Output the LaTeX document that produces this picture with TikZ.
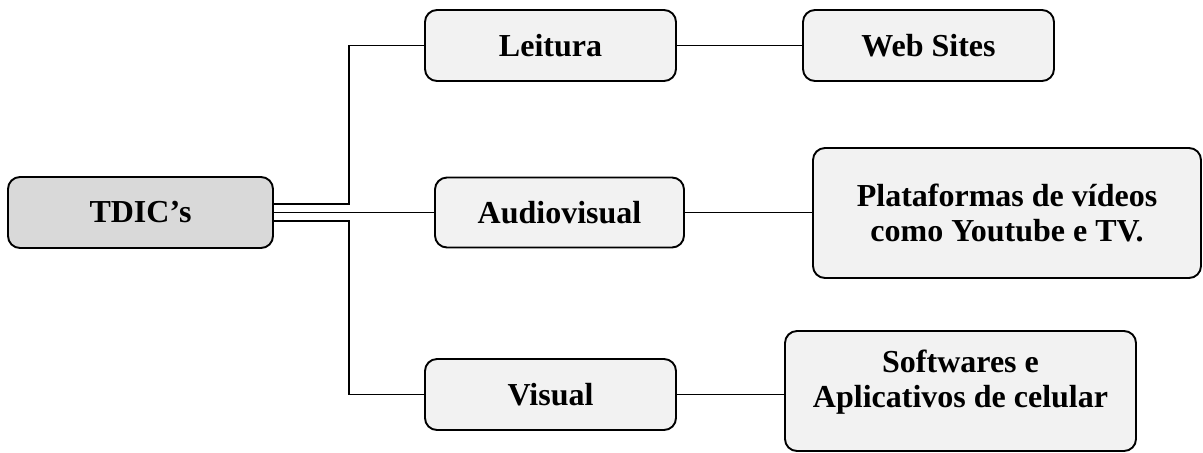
\documentclass[tikz,border=0pt]{standalone}
\usepackage{fontspec}
\setmainfont{Liberation Serif}
\definecolor{boxgray}{HTML}{F2F2F2}
\definecolor{rootgray}{HTML}{D9D9D9}
\begin{document}
\begin{tikzpicture}[x=0.5pt,y=-0.5pt,
  box/.style={draw=black, line width=0.95pt, rounded corners=6pt, fill=boxgray,
    inner sep=0pt, align=center, font=\fontsize{16}{17.5}\selectfont\bfseries},
  link/.style={draw=black, line width=0.9pt}]
\useasboundingbox (0,0) rectangle (1203,452);
\node[box, fill=rootgray, minimum width=132.5pt, minimum height=35.5pt] (tdic) at (140.5,212.5) {TDIC’s};
\node[box, minimum width=125.5pt, minimum height=35.5pt] (leit) at (550.5,45.5) {Leitura};
\node[box, minimum width=125.5pt, minimum height=35.5pt] (web) at (928.5,45.5) {Web Sites};
\node[box, minimum width=124.5pt, minimum height=35pt] (audio) at (559.5,212.5) {Audiovisual};
\node[box, minimum width=194pt, minimum height=65pt] (plat) at (1007,213) {Plataformas de vídeos\\como Youtube e TV.};
\node[box, minimum width=125.5pt, minimum height=35.5pt] (vis) at (550.5,394.5) {Visual};
\node[box, minimum width=175.5pt, minimum height=60pt] (soft) at (960.5,391) {};
\node[font=\fontsize{16}{17.5}\selectfont\bfseries, align=center, inner sep=0pt] (softtxt) at (960.5,382) {Softwares e\\Aplicativos de celular};
\coordinate (jt) at (349,120);
\coordinate (jb) at (349,300);
\draw[link] ([yshift=4.25pt]tdic.east) -| (jt) |- (leit.west);
\draw[link] (tdic.east) -- (audio.west);
\draw[link] ([yshift=-4.25pt]tdic.east) -| (jb) |- (vis.west);
\draw[link] (leit.east) -- (web.west);
\draw[link] (audio.east) -- (audio.east -| plat.west);
\draw[link] (vis.east) -- (vis.east -| soft.west);
\end{tikzpicture}
\end{document}
